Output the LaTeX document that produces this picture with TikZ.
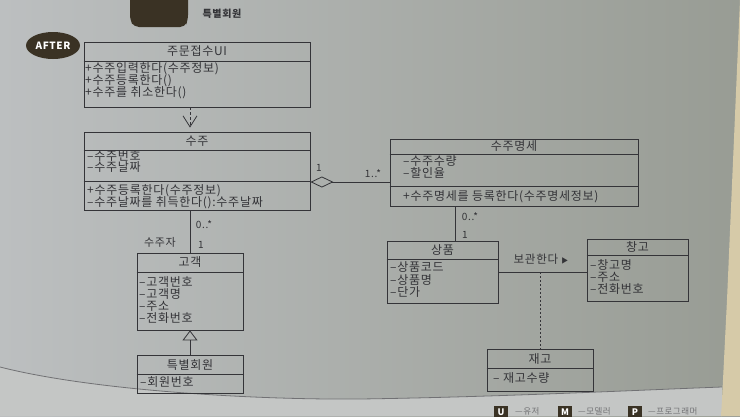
\documentclass[tikz,border=0pt]{standalone}
\usepackage{fontspec}
\setmainfont{Noto Sans CJK KR}[LetterSpace=6]
\usetikzlibrary{arrows.meta,shapes.geometric}

\definecolor{paper}{RGB}{199,203,204}
\definecolor{paperL}{RGB}{188,191,192}
\definecolor{paperR}{RGB}{152,156,148}
\definecolor{paperB}{RGB}{196,198,197}
\definecolor{desk}{RGB}{214,202,168}
\definecolor{ink}{RGB}{52,52,56}
\definecolor{blob}{RGB}{58,50,36}

\tikzset{
  cls/.style={draw=ink, line width=0.8pt, inner sep=0pt},
  ttl/.style={text=ink, inner sep=0pt, font=\fontsize{12}{12}\selectfont},
  mem/.style={text=ink, inner sep=0pt, anchor=west, text height=8.5pt, text depth=2pt, font=\fontsize{12}{12}\selectfont},
  mult/.style={text=ink, inner sep=0pt, font=\fontsize{10}{11}\selectfont},
  link/.style={draw=ink, line width=0.8pt},
  badge/.style={fill=blob, text=white, inner sep=0pt, minimum width=14, minimum height=13, font=\bfseries\fontsize{9}{9}\selectfont},
  legend/.style={text=ink!70, inner sep=0pt, anchor=west, font=\fontsize{8.5}{9}\selectfont},
}

\begin{document}
\begin{tikzpicture}[x=1pt,y=-1pt]
\useasboundingbox (0,0) rectangle (740,416);
\shade[left color=paperL, middle color=paper, right color=paperR] (0,0) rectangle (740,416);
% page edge
\fill[paperB] (0,367) .. controls (90,390) and (250,400) .. (360,399) .. controls (500,397) and (640,390) .. (722,387) -- (722,416) -- (0,416) -- cycle;
\draw[ink!70, line width=0.8pt] (0,367) .. controls (90,390) and (250,400) .. (360,399) .. controls (500,397) and (640,390) .. (722,387);
\fill[desk] (740,0) -- (727,300) -- (722,400) -- (721,416) -- (740,416) -- cycle;

% heading
\fill[blob, rounded corners=5pt] (130,-6) -- (130,20) -- (134,27) -- (185,27) -- (188,20) -- (188,-6) -- cycle;
\node[text=ink, inner sep=0pt, font=\bfseries\fontsize{10}{10}\selectfont] (head) at (222,14) {특별회원};
\node[ellipse, fill=blob, inner sep=0pt, minimum width=54, minimum height=27, text=white, font=\bfseries\fontsize{10}{10}\selectfont] (after) at (53,45.5) {AFTER};

% 주문접수UI
\node[cls, minimum width=226, minimum height=65] (ui) at (197,74.5) {};
\draw[link] (ui.west |- 0,61) -- (ui.east |- 0,61);
\node[ttl] (ui-t) at (197,51) {주문접수UI};
\node[mem] (ui-1) at (85,69) {+수주입력한다(수주정보)};
\node[mem] (ui-2) at (85,81) {+수주등록한다()};
\node[mem] (ui-3) at (85,93) {+수주를 취소한다()};

% 수주
\node[cls, minimum width=226, minimum height=78] (order) at (197,171) {};
\draw[link] (order.west |- 0,150) -- (order.east |- 0,150);
\draw[link] (order.west |- 0,181) -- (order.east |- 0,181);
\node[ttl] (order-t) at (197,141) {수주};
\node[mem] (order-1) at (87,157.5) {–수주번호};
\node[mem] (order-2) at (87,168.5) {–수주날짜};
\node[mem] (order-3) at (87,191) {+수주등록한다(수주정보)};
\node[mem] (order-4) at (87,203) {–수주날짜를 취득한다():수주날짜};

% 수주명세
\node[cls, minimum width=248, minimum height=67] (detail) at (514,172.5) {};
\draw[link] (detail.west |- 0,154) -- (detail.east |- 0,154);
\draw[link] (detail.west |- 0,186) -- (detail.east |- 0,186);
\node[ttl] (detail-t) at (514,146.5) {수주명세};
\node[mem] (detail-1) at (403,162.5) {–수주수량};
\node[mem] (detail-2) at (403,174) {–할인율};
\node[mem] (detail-3) at (403,197) {+수주명세를 등록한다(수주명세정보)};

% 상품
\node[cls, minimum width=111, minimum height=62] (prod) at (442.5,272) {};
\draw[link] (prod.west |- 0,259) -- (prod.east |- 0,259);
\node[ttl] (prod-t) at (442.5,250) {상품};
\node[mem] (prod-1) at (390,268) {–상품코드};
\node[mem] (prod-2) at (390,281) {–상품명};
\node[mem] (prod-3) at (390,293) {–단가};

% 창고
\node[cls, minimum width=101, minimum height=62] (store) at (637.5,270) {};
\draw[link] (store.west |- 0,255) -- (store.east |- 0,255);
\node[ttl] (store-t) at (637.5,247) {창고};
\node[mem] (store-1) at (590,266) {–창고명};
\node[mem] (store-2) at (590,278) {–주소};
\node[mem] (store-3) at (590,290) {–전화번호};

% 재고
\node[cls, minimum width=106, minimum height=42] (stock) at (540,370) {};
\draw[link] (stock.west |- 0,368) -- (stock.east |- 0,368);
\node[ttl] (stock-t) at (540,359) {재고};
\node[mem] (stock-1) at (493,379.5) {– 재고수량};

% 고객
\node[cls, minimum width=106, minimum height=77] (cust) at (190,291.5) {};
\draw[link] (cust.west |- 0,272) -- (cust.east |- 0,272);
\node[ttl] (cust-t) at (190,262.5) {고객};
\node[mem] (cust-1) at (139,283) {–고객번호};
\node[mem] (cust-2) at (139,295) {–고객명};
\node[mem] (cust-3) at (139,307) {–주소};
\node[mem] (cust-4) at (139,319) {–전화번호};

% 특별회원
\node[cls, minimum width=106, minimum height=38] (vip) at (190,374) {};
\draw[link] (vip.west |- 0,374) -- (vip.east |- 0,374);
\node[ttl] (vip-t) at (190,364.5) {특별회원};
\node[mem] (vip-1) at (140,383.5) {–회원번호};

% connectors
\draw[link, dash pattern=on 3pt off 2pt, -{Straight Barb[length=11pt, width=14pt]}, shorten >=4pt] (ui.south -| 190,0) -- (order.north -| 190,0);
\coordinate (agg) at (order.east |- 0,182);
\draw[link, {Diamond[open, length=23pt, width=11pt]}-] (agg) -- (agg -| detail.west);
\node[mult] (agg-1) at (319,168) {1};
\node[mult] (agg-n) at (373,174) {1..*};
\draw[link] (detail.south -| 455,0) -- (prod.north -| 455,0);
\node[mult] (dp-n) at (470,217) {0..*};
\node[mult] (dp-1) at (465,235) {1};
\draw[link] (prod.east) -- (prod.east -| store.west);
\coordinate (keep) at (prod.east -| stock.north);
\node[mult, font=\fontsize{11.5}{12}\selectfont] (keep-l) at (541,259) {보관한다 \scalebox{0.6}{▶}};
\draw[link, dash pattern=on 2pt off 2pt] (keep) -- (stock.north);
\draw[link] (order.south -| cust.north) -- (cust.north);
\node[mult] (oc-n) at (204,225) {0..*};
\node[mult, font=\fontsize{11}{11}\selectfont] (oc-r) at (160,242) {수주자};
\node[mult] (oc-1) at (201,245) {1};
\draw[link, -{Triangle[open, length=10pt, width=15pt]}] (vip.north) -- (cust.south);

% legend
\node[badge] (lg-u) at (501,412) {U};
\node[legend] (lg-ut) at (515,411) {—유저};
\node[badge] (lg-m) at (565,412) {M};
\node[legend] (lg-mt) at (578,411) {—모델러};
\node[badge] (lg-p) at (635,412) {P};
\node[legend] (lg-pt) at (648,411) {—프로그래머};
\end{tikzpicture}
\end{document}
